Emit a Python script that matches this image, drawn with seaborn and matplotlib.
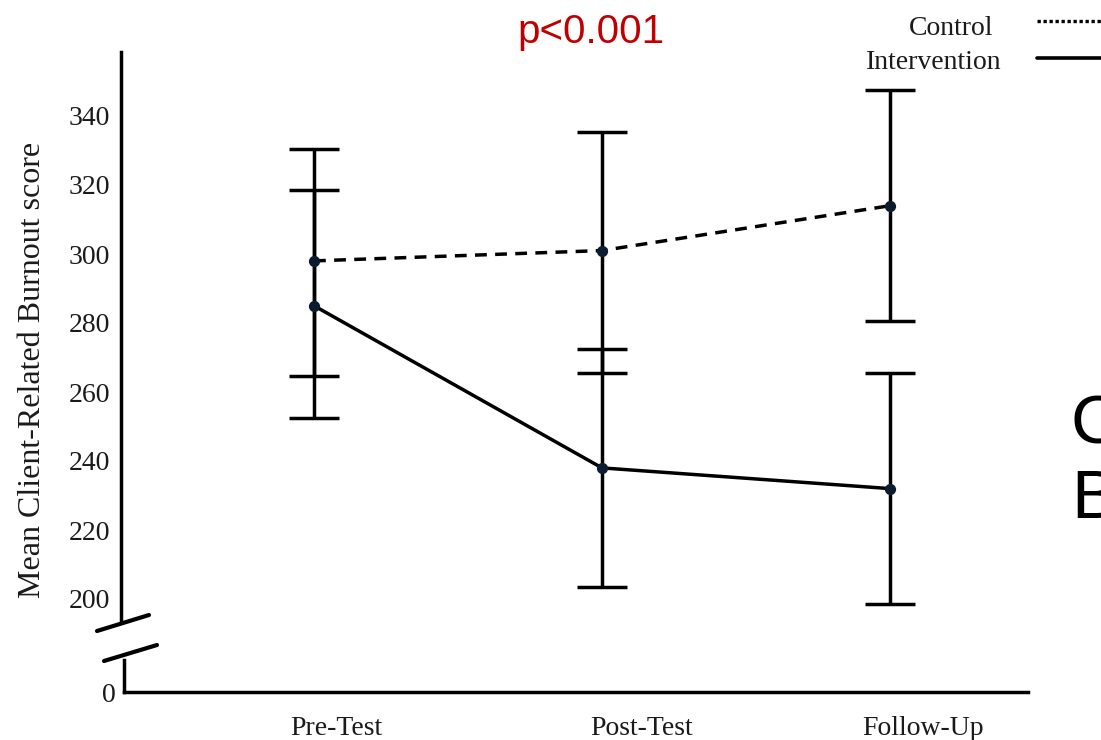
import numpy as np
import pandas as pd
import matplotlib
matplotlib.use("Agg")
import matplotlib.pyplot as plt
import seaborn as sns
from matplotlib.lines import Line2D

# Mean client-related burnout scores with error-bar bounds
phases = ["Pre-Test", "Post-Test", "Follow-Up"]
control_mean = [298, 301, 314]
control_low = [264.5, 265.5, 280.5]
control_high = [330.5, 335.5, 347.5]
intervention_mean = [285, 238, 232]
intervention_low = [252.5, 203.5, 198.5]
intervention_high = [318.5, 272.5, 265.5]
upper_ticks = [200, 220, 240, 260, 280, 300, 320, 340]
lower_ticks = [0]

sns.set_theme(style="white")
plt.rcParams["font.family"] = ["Liberation Serif", "DejaVu Serif"]

W, H = 1101, 740
fig = plt.figure(figsize=(W / 100, H / 100), dpi=100)


def px_box(left, top, right, bottom):
    return [left / W, 1 - bottom / H, (right - left) / W, (bottom - top) / H]


def fx(x):
    return x / W


def fy(y):
    return 1 - y / H


ax = fig.add_axes(px_box(121, 52, 1028, 622))
axb = fig.add_axes(px_box(124, 660, 1028, 692))

pos = np.arange(len(phases))
df = pd.DataFrame({
    "pos": np.concatenate([pos, pos]),
    "score": control_mean + intervention_mean,
    "group": ["Control"] * 3 + ["Intervention"] * 3,
})

LW = 2.5
TEXT = "#1a1a1a"
# error bars
for mean, low, high in [(control_mean, control_low, control_high),
                        (intervention_mean, intervention_low, intervention_high)]:
    m = np.array(mean, dtype=float)
    yerr = [m - np.array(low), np.array(high) - m]
    ax.errorbar(pos, m, yerr=yerr, fmt="none", ecolor="black",
                elinewidth=LW, capsize=18, capthick=LW, zorder=2)

sns.lineplot(data=df, x="pos", y="score", style="group",
             dashes={"Control": (3.4, 2.4), "Intervention": ""},
             color="black", linewidth=LW, legend=False, ax=ax,
             sort=False, zorder=3)
ax.scatter(pos, control_mean, s=50, color="#0b1c30", zorder=4)
ax.scatter(pos, intervention_mean, s=50, color="#0b1c30", zorder=4)

# upper axes (200-350 range)
ax.set_xlim(-(314 - 121) / 288, 2 + (1028 - 890) / 288)
ax.set_ylim(200 - (622 - 599) / 3.45, 200 + (599 - 52) / 3.45)
ax.set_yticks(upper_ticks)
ax.set_xticks([])
ax.set_xlabel("")
ax.set_ylabel("")
for s in ["top", "right", "bottom"]:
    ax.spines[s].set_visible(False)
ax.spines["left"].set_linewidth(LW)
ax.spines["left"].set_color("black")
ax.tick_params(axis="y", length=0, pad=8, labelsize=20, colors=TEXT)
ax.patch.set_alpha(0)

# lower axes holding the zero and the category axis
axb.set_xlim(-(314 - 124) / 288, 2 + (1028 - 890) / 288)
axb.set_ylim(0, 1)
axb.set_yticks(lower_ticks)
label_pos = [(336 - 314) / 288, (642 - 314) / 288, (923 - 314) / 288]
axb.set_xticks(label_pos)
axb.set_xticklabels(phases)
for s in ["top", "right"]:
    axb.spines[s].set_visible(False)
for s in ["left", "bottom"]:
    axb.spines[s].set_linewidth(LW)
    axb.spines[s].set_color("black")
axb.tick_params(axis="y", length=0, pad=6, labelsize=20, colors=TEXT)
axb.tick_params(axis="x", length=0, pad=17, labelsize=20, colors=TEXT)
axb.patch.set_alpha(0)

# axis break marks
for (x0, y0, x1, y1) in [(97, 631, 149, 615), (104, 661, 157, 645)]:
    fig.add_artist(Line2D([fx(x0), fx(x1)], [fy(y0), fy(y1)],
                          color="black", linewidth=3.0,
                          transform=fig.transFigure))

fig.text(fx(33), fy(370), "Mean Client-Related Burnout score",
         rotation=90, ha="center", va="center", fontsize=23, color=TEXT)

# legend keys
fig.text(fx(993), fy(35), "Control", ha="right", va="baseline",
         fontsize=20, color=TEXT)
fig.text(fx(1002), fy(69), "Intervention", ha="right", va="baseline",
         fontsize=20, color=TEXT)
fig.add_artist(Line2D([fx(1037), fx(1110)], [fy(21), fy(21)], color="black",
                      linewidth=2.4, linestyle=(0, (1.0, 0.8)),
                      transform=fig.transFigure))
fig.add_artist(Line2D([fx(1037), fx(1110)], [fy(58), fy(58)], color="black",
                      linewidth=2.6, transform=fig.transFigure))

fig.text(fx(591), fy(43), "p<0.001", ha="center", va="baseline",
         fontsize=29, color="#c00000", family=["Liberation Sans", "DejaVu Sans"])

# slide heading letters running off the right edge
fig.text(fx(1071), fy(444), "C", ha="left", va="baseline", fontsize=50,
         color="black", family=["Liberation Sans", "DejaVu Sans"])
fig.text(fx(1071), fy(518), "B", ha="left", va="baseline", fontsize=50,
         color="black", family=["Liberation Sans", "DejaVu Sans"])

fig.savefig("out.png", dpi=100, facecolor="white")
